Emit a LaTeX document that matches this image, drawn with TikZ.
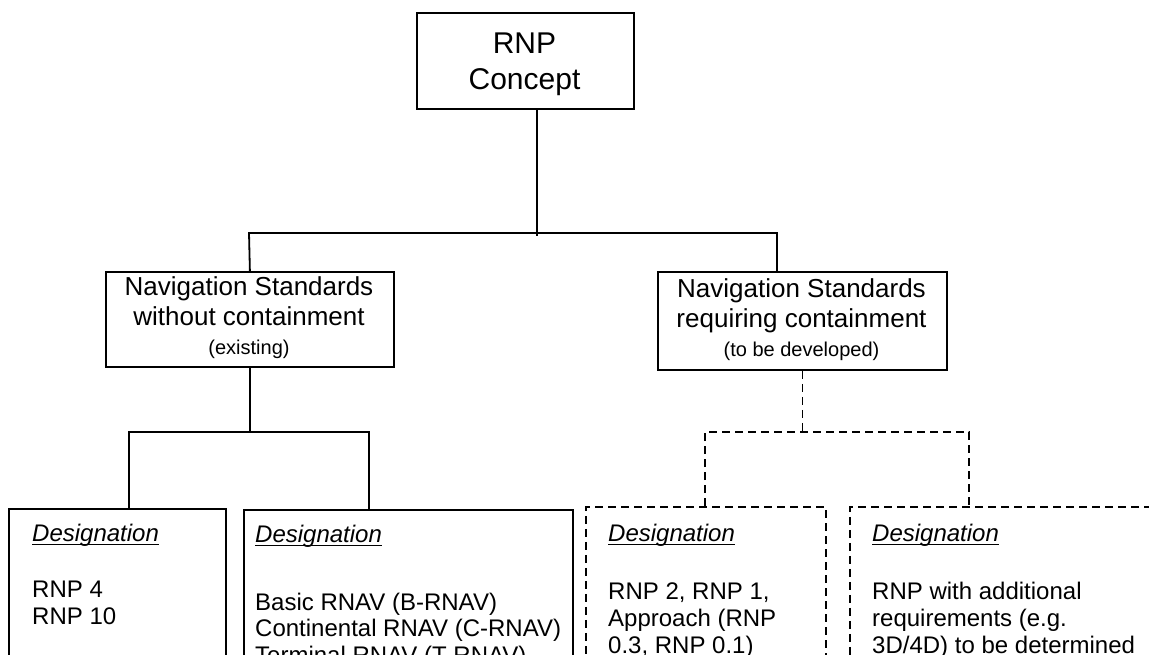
\documentclass[tikz,border=0pt]{standalone}
\usepackage{fontspec}
\setmainfont{Liberation Sans}
\begin{document}
\begin{tikzpicture}[x=1pt,y=-1pt,
  box/.style={draw, line width=1.8pt, inner sep=0pt, anchor=north west},
  dbox/.style={box, dash pattern=on 8pt off 5pt},
  conn/.style={line width=1.8pt},
  dconn/.style={conn, dash pattern=on 8pt off 5pt},
  big/.style={font=\fontsize{30}{35}\selectfont, inner sep=0pt, anchor=base},
  mid/.style={font=\fontsize{26}{30}\selectfont, inner sep=0pt, anchor=base},
  small/.style={font=\fontsize{20}{24}\selectfont, inner sep=0pt, anchor=base},
  txt/.style={font=\fontsize{24}{28}\selectfont, inner sep=0pt, anchor=base west},
  ul/.style={line width=1.2pt}
]
\useasboundingbox (0,0) rectangle (1149,654);
\clip (0,0) rectangle (1149,654);

% top box
\node[box, minimum width=217pt, minimum height=96pt] (top) at (416,12) {};
\node[big] (t1) at (524.5,53) {RNP};
\node[big] (t2) at (524.5,89) {Concept};

% navigation standard boxes
\node[box, minimum width=288pt, minimum height=95pt] (nl) at (105,271) {};
\node[mid] (nl1) at (249,295) {Navigation Standards};
\node[mid] (nl2) at (249,325) {without containment};
\node[small] (nl3) at (249,354) {(existing)};

\node[box, minimum width=289pt, minimum height=98pt] (nr) at (657,271) {};
\node[mid] (nr1) at (801.5,297) {Navigation Standards};
\node[mid] (nr2) at (801.5,327) {requiring containment};
\node[small] (nr3) at (801.5,356) {(to be developed)};

% designation boxes
\node[box, minimum width=217pt, minimum height=200pt] (b1) at (8,508) {};
\node[box, minimum width=329pt, minimum height=200pt] (b2) at (243,509) {};
\node[dbox, minimum width=240pt, minimum height=200pt] (b3) at (585,506) {};
\node[dbox, minimum width=350pt, minimum height=200pt] (b4) at (849,506) {};

\node[txt] (d1) at (32,541) {\itshape Designation};
\node[txt] (b1a) at (32,597) {RNP 4};
\node[txt] (b1b) at (32,624) {RNP 10};

\node[txt] (d2) at (255,542) {\itshape Designation};
\node[txt] (b2a) at (255,610) {Basic RNAV (B-RNAV)};
\node[txt] (b2b) at (255,636.5) {Continental RNAV (C-RNAV)};
\node[txt] (b2c) at (255,663) {Terminal RNAV (T-RNAV)};

\node[txt] (d3) at (608,541) {\itshape Designation};
\node[txt] (b3a) at (608,599) {RNP 2, RNP 1,};
\node[txt] (b3b) at (608,626) {Approach (RNP};
\node[txt] (b3c) at (608,653) {0.3, RNP 0.1)};

\node[txt] (d4) at (872,541) {\itshape Designation};
\node[txt] (b4a) at (872,599) {RNP with additional};
\node[txt] (b4b) at (872,626) {requirements (e.g.};
\node[txt] (b4c) at (872,653) {3D/4D) to be determined};

\foreach \d in {d1,d2,d3,d4}
  \draw[ul] ([yshift=-3.5pt]\d.base west) -- ([yshift=-3.5pt]\d.base east);

% junction coordinates
\coordinate (tj) at (537,236);
\coordinate (hl) at (249,233);
\coordinate (hr) at (777,233);
\coordinate (bl) at (129,432);
\coordinate (br) at (369,432);
\coordinate (dl) at (705,432);
\coordinate (dr) at (969,432);

% solid connectors
\draw[conn] (tj |- top.south) -- (tj);
\draw[conn] (nl.north) -- (hl) -- (hr) -- (hr |- nr.north);
\draw[conn] (nl.south) -- (nl.south |- bl);
\draw[conn] (bl |- b1.north) -- (bl) -- (br) -- (br |- b2.north);

% dashed connectors
\draw[dconn] (nr.south) -- (nr.south |- dl);
\draw[dconn] (dl |- b3.north) -- (dl) -- (dr) -- (dr |- b4.north);
\end{tikzpicture}
\end{document}
